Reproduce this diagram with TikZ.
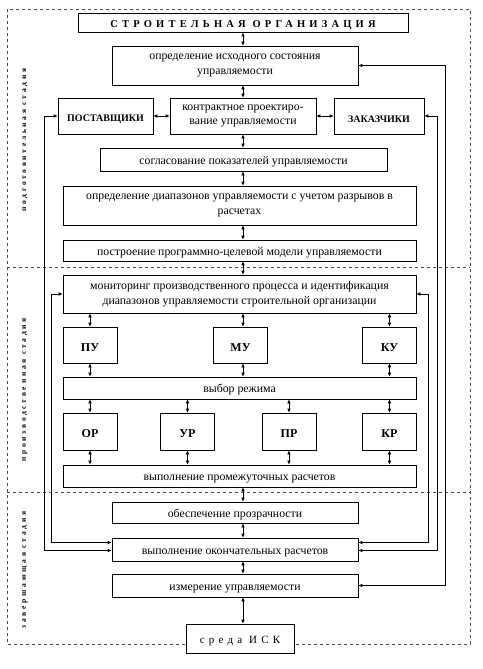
\documentclass[tikz,border=0pt]{standalone}
\usepackage{fontspec}
\setmainfont{Liberation Serif}
\usetikzlibrary{arrows.meta,shadows}

\begin{document}
\begin{tikzpicture}[x=1pt,y=-1pt,>={Latex[length=4pt,width=3.5pt]},
    box/.style={draw,fill=white,line width=0.6pt,align=center,inner sep=2pt,
      drop shadow={shadow xshift=0.9pt,shadow yshift=-0.9pt,fill=gray,opacity=0.8},
      execute at begin node={\rule{0pt}{12.5pt}},
      font=\fontsize{11.8}{14.5}\selectfont},
    capsbox/.style={box,font=\fontsize{10}{12}\selectfont\bfseries},
    unit/.style={box,minimum width=54pt,font=\fontsize{12}{14}\selectfont\bfseries},
    stage/.style={rotate=90,font=\fontsize{7.5}{8}\selectfont\bfseries\addfontfeature{LetterSpace=36}},
    link/.style={<->,line width=0.6pt}]
    \useasboundingbox (0,0) rectangle (482,669);
    % рамка и стадии
    \draw[gray!60!black,dashed,line width=0.6pt] (7,9) rectangle (470,644);
    \draw[gray!60!black,dashed,line width=0.6pt] (7,267) -- (470,267);
    \draw[gray!60!black,dashed,line width=0.6pt] (7,492) -- (470,492);
    \node[stage] (st1) at (25,140) {подготовительная стадия};
    \node[stage] (st2) at (25,390) {производственная стадия};
    \node[stage] (st3) at (25,570) {завершающая стадия};
    \coordinate (spine) at (243,0);

    \node[box,minimum width=330pt,minimum height=19pt,line width=0.9pt,
      font=\fontsize{10.5}{12}\selectfont\bfseries\addfontfeature{LetterSpace=40}] (org) at (243,22.5) {СТРОИТЕЛЬНАЯ ОРГАНИЗАЦИЯ};
    \node[box,minimum width=246pt,minimum height=39pt] (init) at (235,65.5) {определение исходного состояния\\управляемости};
    \node[capsbox,minimum width=95pt,minimum height=36pt] (supp) at (105.5,116) {ПОСТАВЩИКИ};
    \node[box,minimum width=146pt,minimum height=36pt] (contr) at (243,116) {контрактное проектиро-\\вание управляемости};
    \node[capsbox,minimum width=90pt,minimum height=36pt] (cust) at (379,116) {ЗАКАЗЧИКИ};
    \node[box,minimum width=287pt,minimum height=23pt] (agree) at (243.5,159.5) {согласование показателей управляемости};
    \node[box,minimum width=353pt,minimum height=39pt] (ranges) at (239.5,205.5) {определение диапазонов управляемости с учетом разрывов в\\расчетах};
    \node[box,minimum width=353pt,minimum height=21pt] (model) at (239.5,250.5) {построение программно-целевой модели управляемости};

    \node[box,minimum width=353pt,minimum height=38pt] (monit) at (239.5,294) {мониторинг производственного процесса и идентификация\\диапазонов управляемости строительной организации};
    \node[unit,minimum height=36pt] (PU) at (90,345) {ПУ};
    \node[unit,minimum height=36pt] (MU) at (240.5,345) {МУ};
    \node[unit,minimum height=36pt] (KU) at (389.5,345) {КУ};
    \node[box,minimum width=353pt,minimum height=22pt] (mode) at (239.5,388) {выбор режима};
    \node[unit,minimum height=37pt] (OR) at (90,431.5) {ОР};
    \node[unit,minimum height=37pt] (UR) at (187.5,431.5) {УР};
    \node[unit,minimum height=37pt] (PR) at (289,431.5) {ПР};
    \node[unit,minimum height=37pt] (KR) at (389.5,431.5) {КР};
    \node[box,minimum width=353pt,minimum height=22pt] (inter) at (239.5,476) {выполнение промежуточных расчетов};

    \node[box,minimum width=246pt,minimum height=21pt] (transp) at (235,512.5) {обеспечение прозрачности};
    \node[box,minimum width=246pt,minimum height=23pt] (final) at (235,549.5) {выполнение окончательных расчетов};
    \node[box,minimum width=246pt,minimum height=23pt] (measure) at (235,585.5) {измерение управляемости};
    \node[box,minimum width=108pt,minimum height=29pt,
      font=\fontsize{11}{12}\selectfont\addfontfeature{LetterSpace=38}] (env) at (240,638.5) {среда ИСК};

    % вертикальные связи
    \draw[link] (org.south -| spine) -- (init.north -| spine);
    \draw[link] (init.south -| spine) -- (contr.north -| spine);
    \draw[link] (supp) -- (contr);
    \draw[link] (contr) -- (cust);
    \draw[link] (contr.south -| spine) -- (agree.north -| spine);
    \draw[link] (agree.south -| spine) -- (ranges.north -| spine);
    \draw[link] (ranges.south -| spine) -- (model.north -| spine);
    \draw[link] (model.south -| spine) -- (monit.north -| spine);
    \draw[link] (monit.south -| PU) -- (PU);
    \draw[link] (monit.south -| spine) -- (MU.north -| spine);
    \draw[link] (monit.south -| KU) -- (KU);
    \draw[link] (PU) -- (mode.north -| PU);
    \draw[link] (MU.south -| spine) -- (mode.north -| spine);
    \draw[link] (KU) -- (mode.north -| KU);
    \foreach \u in {OR,UR,PR,KR} {
      \draw[link] (mode.south -| \u) -- (\u);
      \draw[link] (\u) -- (inter.north -| \u);
    }
    \draw[link] (inter.south -| spine) -- (transp.north -| spine);
    \draw[link] (transp.south -| spine) -- (final.north -| spine);
    \draw[link] (final.south -| spine) -- (measure.north -| spine);
    \draw[link] (measure.south -| spine) -- (env.north -| spine);

    % обратные связи по краям
    \draw[link] (supp.west) -- ++(-13,0) |- ([yshift=-1pt]final.west);
    \draw[link] (monit.west) -- ++(-11,0) |- ([yshift=7pt]final.west);
    \draw[link] (monit.east) -- ++(12,0) |- ([yshift=7pt]final.east);
    \draw[link] (cust.east) -- ++(13,0) |- ([yshift=-1pt]final.east);
    \draw[link] (init.east) -- ++(87,0) |- (measure.east);
\end{tikzpicture}
\end{document}
